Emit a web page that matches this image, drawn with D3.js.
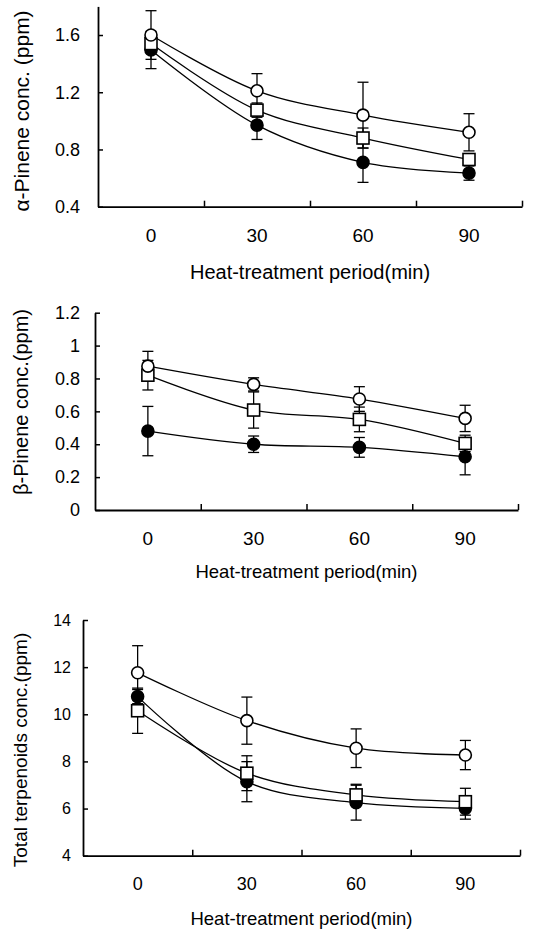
<!DOCTYPE html>
<html>
<head>
<meta charset="utf-8">
<script src="https://cdn.jsdelivr.net/npm/d3@7"></script>
<style>
  body { margin: 0; background: #fff; }
  text { font-family: "Liberation Sans", Arial, sans-serif; fill: #000; }
</style>
</head>
<body>
<div id="chart"></div>
<script>
// Heat-treatment periods (categories)
const periods = ["0", "30", "60", "90"];

// alpha-pinene (ppm)
const alphaOpen = [1.6, 1.21, 1.04, 0.92];
const alphaOpenErr = [0.17, 0.12, 0.23, 0.13];
const alphaSquare = [1.54, 1.075, 0.88, 0.73];
const alphaSquareErr = [0.05, 0.05, 0.07, 0.04];
const alphaFilled = [1.495, 0.97, 0.71, 0.635];
const alphaFilledErr = [0.13, 0.1, 0.14, 0.05];
const alphaTicks = [0.4, 0.8, 1.2, 1.6];

// beta-pinene (ppm)
const betaOpen = [0.875, 0.764, 0.675, 0.557];
const betaOpenErr = [0.09, 0.04, 0.075, 0.08];
const betaSquare = [0.82, 0.608, 0.551, 0.405];
const betaSquareErr = [0.09, 0.11, 0.075, 0.05];
const betaFilled = [0.48, 0.4, 0.381, 0.324];
const betaFilledErr = [0.15, 0.05, 0.06, 0.11];
const betaTicks = [0, 0.2, 0.4, 0.6, 0.8, 1, 1.2];

// total terpenoids (ppm)
const totalOpen = [11.76, 9.73, 8.56, 8.27];
const totalOpenErr = [1.15, 1.0, 0.82, 0.62];
const totalSquare = [10.15, 7.5, 6.58, 6.29];
const totalSquareErr = [0.96, 0.74, 0.45, 0.57];
const totalFilled = [10.75, 7.14, 6.25, 6.01];
const totalFilledErr = [0.3, 0.85, 0.74, 0.46];
const totalTicks = [4, 6, 8, 10, 12, 14];

const width = 534;
const height = 930;

const svg = d3
  .select("#chart")
  .append("svg")
  .attr("width", width)
  .attr("height", height);

const panels = [
  {
    series: [
      { values: alphaFilled, errs: alphaFilledErr, marker: "filled" },
      { values: alphaSquare, errs: alphaSquareErr, marker: "square" },
      { values: alphaOpen, errs: alphaOpenErr, marker: "open" },
    ],
    yDomain: [0.4, 1.8],
    yTicks: alphaTicks,
    yTitle: "α-Pinene conc. (ppm)",
    left: 98, right: 522, bottom: 206.7, top: 6.4,
    tickFont: 18, xTickFont: 19, xTitleFont: 20, yTitleFont: 21,
    xTitleY: 279, yTitleX: 29, yTitleY: 111,
  },
  {
    series: [
      { values: betaFilled, errs: betaFilledErr, marker: "filled" },
      { values: betaSquare, errs: betaSquareErr, marker: "square" },
      { values: betaOpen, errs: betaOpenErr, marker: "open" },
    ],
    yDomain: [0, 1.2],
    yTicks: betaTicks,
    yTitle: "β-Pinene conc.(ppm)",
    left: 95, right: 518, bottom: 510, top: 312.7,
    tickFont: 18, xTickFont: 19, xTitleFont: 18.5, yTitleFont: 20,
    xTitleY: 578, yTitleX: 28, yTitleY: 402,
  },
  {
    series: [
      { values: totalFilled, errs: totalFilledErr, marker: "filled" },
      { values: totalSquare, errs: totalSquareErr, marker: "square" },
      { values: totalOpen, errs: totalOpenErr, marker: "open" },
    ],
    yDomain: [4, 14],
    yTicks: totalTicks,
    yTitle: "Total terpenoids conc.(ppm)",
    left: 83, right: 520, bottom: 855.7, top: 620,
    tickFont: 16, xTickFont: 18, xTitleFont: 18.5, yTitleFont: 19,
    xTitleY: 925, yTitleX: 27, yTitleY: 750,
  },
];

panels.forEach(drawPanel);

function drawPanel(p) {
  const g = svg.append("g");

  const x = d3
    .scaleBand()
    .domain(periods)
    .range([p.left, p.right])
    .padding(0);
  const cx = (d) => x(d) + x.bandwidth() / 2;

  const y = d3.scaleLinear().domain(p.yDomain).range([p.bottom, p.top]);

  // y axis with inward ticks
  const yAxis = g
    .append("g")
    .attr("transform", `translate(${p.left},0)`)
    .call(
      d3
        .axisLeft(y)
        .tickValues(p.yTicks)
        .tickSizeInner(-5)
        .tickSizeOuter(0)
        .tickPadding(p.left - (p.tickFont === 16 ? 71 : 80))
        .tickFormat((d) => String(d)),
    );
  yAxis.select(".domain").attr("stroke-width", 1.8);
  yAxis.selectAll(".tick line").attr("stroke-width", 1.5);
  yAxis
    .selectAll("text")
    .attr("font-size", p.tickFont)
    .attr("font-family", null);

  // x axis: line + boundary ticks between categories
  const xb = d3
    .scaleLinear()
    .domain([0, periods.length])
    .range([p.left, p.right]);
  const xAxis = g
    .append("g")
    .attr("transform", `translate(0,${p.bottom})`)
    .call(
      d3
        .axisBottom(xb)
        .tickValues(d3.range(1, periods.length + 1))
        .tickSizeInner(-6)
        .tickSizeOuter(0)
        .tickFormat(""),
    );
  xAxis.select(".domain").attr("stroke-width", 1.8);
  xAxis.selectAll(".tick line").attr("stroke-width", 1.5);

  // category labels
  const xLab = g
    .append("g")
    .attr("transform", `translate(0,${p.bottom})`)
    .call(d3.axisBottom(x).tickSize(0).tickPadding(22));
  xLab.select(".domain").remove();
  xLab
    .selectAll("text")
    .attr("font-size", p.xTickFont)
    .attr("font-family", null);

  // titles
  g.append("text")
    .attr("x", (p.left + p.right) / 2)
    .attr("y", p.xTitleY)
    .attr("text-anchor", "middle")
    .attr("font-size", p.xTitleFont)
    .text("Heat-treatment period(min)");

  g.append("text")
    .attr("transform", `translate(${p.yTitleX},${p.yTitleY}) rotate(-90)`)
    .attr("text-anchor", "middle")
    .attr("font-size", p.yTitleFont)
    .text(p.yTitle);

  const line = d3
    .line()
    .x((d, i) => cx(periods[i]))
    .y((d) => y(d))
    .curve(d3.curveCatmullRom.alpha(0.5));

  // lines
  p.series.forEach((s) => {
    g.append("path")
      .datum(s.values)
      .attr("fill", "none")
      .attr("stroke", "#000")
      .attr("stroke-width", 1.3)
      .attr("d", line);
  });

  // error bars
  p.series.forEach((s) => {
    const eb = g.append("g").attr("stroke", "#000").attr("stroke-width", 1.3);
    s.values.forEach((v, i) => {
      const xc = cx(periods[i]);
      const e = s.errs[i];
      eb.append("line")
        .attr("x1", xc).attr("x2", xc)
        .attr("y1", y(v + e)).attr("y2", y(v - e));
      [v + e, v - e].forEach((w) => {
        eb.append("line")
          .attr("x1", xc - 5.5).attr("x2", xc + 5.5)
          .attr("y1", y(w)).attr("y2", y(w));
      });
    });
  });

  // markers
  p.series.forEach((s) => {
    s.values.forEach((v, i) => {
      const xc = cx(periods[i]);
      if (s.marker === "square") {
        g.append("rect")
          .attr("x", xc - 6).attr("y", y(v) - 6)
          .attr("width", 12).attr("height", 12)
          .attr("fill", "#fff")
          .attr("stroke", "#000")
          .attr("stroke-width", 1.6);
      } else {
        g.append("circle")
          .attr("cx", xc).attr("cy", y(v))
          .attr("r", 6)
          .attr("fill", s.marker === "filled" ? "#000" : "#fff")
          .attr("stroke", "#000")
          .attr("stroke-width", 1.6);
      }
    });
  });
}
</script>
</body>
</html>
